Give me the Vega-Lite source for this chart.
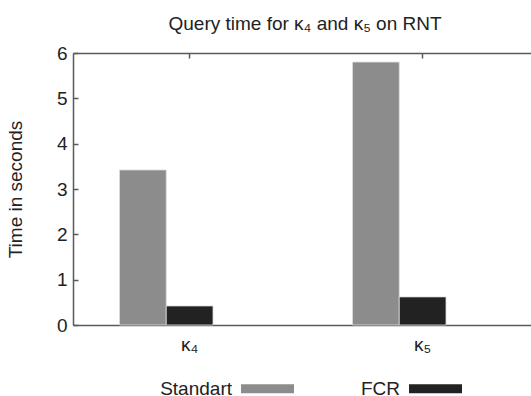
{
  "$schema": "https://vega.github.io/schema/vega-lite/v6.json",
  "autosize": "none",
  "width": 458,
  "height": 272,
  "padding": {"left": 73, "top": 53, "right": 0, "bottom": 71},
  "background": "white",
  "config": {
    "font": "Liberation Sans",
    "view": {"stroke": null},
    "axis": {"grid": false, "domainColor": "#5a5a5a", "domainWidth": 1.5, "tickColor": "#5a5a5a", "tickWidth": 1.5, "labelFontSize": 19, "labelColor": "#222222", "titleFontSize": 19, "titleFontWeight": "normal", "titleColor": "#222222", "labelFont": "Liberation Sans", "titleFont": "Liberation Sans"}
  },
  "title": {"text": "Query time for κ₄ and κ₅ on RNT", "fontSize": 19, "fontWeight": "normal", "color": "#222222", "font": "Liberation Sans", "offset": 0, "dx": 3},
  "data": {"values": [
    {"query": "κ₄", "method": "Standart", "time": 3.42},
    {"query": "κ₄", "method": "FCR", "time": 0.42},
    {"query": "κ₅", "method": "Standart", "time": 5.80},
    {"query": "κ₅", "method": "FCR", "time": 0.62}
  ]},
  "resolve": {"axis": {"x": "independent"}},
  "layer": [
    {
      "mark": {"type": "bar", "stroke": "#dddddd", "strokeWidth": 0.8},
      "encoding": {
        "x": {"field": "query", "type": "nominal", "sort": null,
          "scale": {"range": [0, 466], "paddingInner": 0, "paddingOuter": 0},
          "axis": {"orient": "bottom", "title": null, "labelAngle": 0, "tickSize": -5, "labelPadding": 15}},
        "xOffset": {"field": "method", "type": "nominal", "sort": ["Standart", "FCR"],
          "scale": {"range": [46.5, 140], "paddingInner": 0, "paddingOuter": 0}},
        "y": {"field": "time", "type": "quantitative",
          "scale": {"domain": [0, 6], "nice": false},
          "axis": {"values": [0, 1, 2, 3, 4, 5, 6], "tickSize": -5, "labelPadding": 11, "title": "Time in seconds", "titlePadding": 31}},
        "color": {"field": "method", "type": "nominal", "sort": ["Standart", "FCR"],
          "scale": {"range": ["#8c8c8c", "#222222"]},
          "legend": {"orient": "none", "legendX": 168, "legendY": 309, "direction": "horizontal", "title": null, "padding": 0,
            "symbolType": "M-1,-0.17H1V0.17H-1Z", "symbolSize": 2809, "symbolStrokeWidth": 0, "symbolOpacity": 1,
            "labelAlign": "right", "labelOffset": -62, "labelFontSize": 19, "labelColor": "#222222", "labelFont": "Liberation Sans", "columnPadding": 66}}
      }
    },
    {
      "mark": {"type": "bar", "opacity": 0},
      "encoding": {
        "x": {"field": "query", "type": "nominal", "sort": null,
          "axis": {"orient": "top", "title": null, "labels": false, "tickSize": -5}},
        "y": {"field": "time", "type": "quantitative"}
      }
    }
  ]
}
